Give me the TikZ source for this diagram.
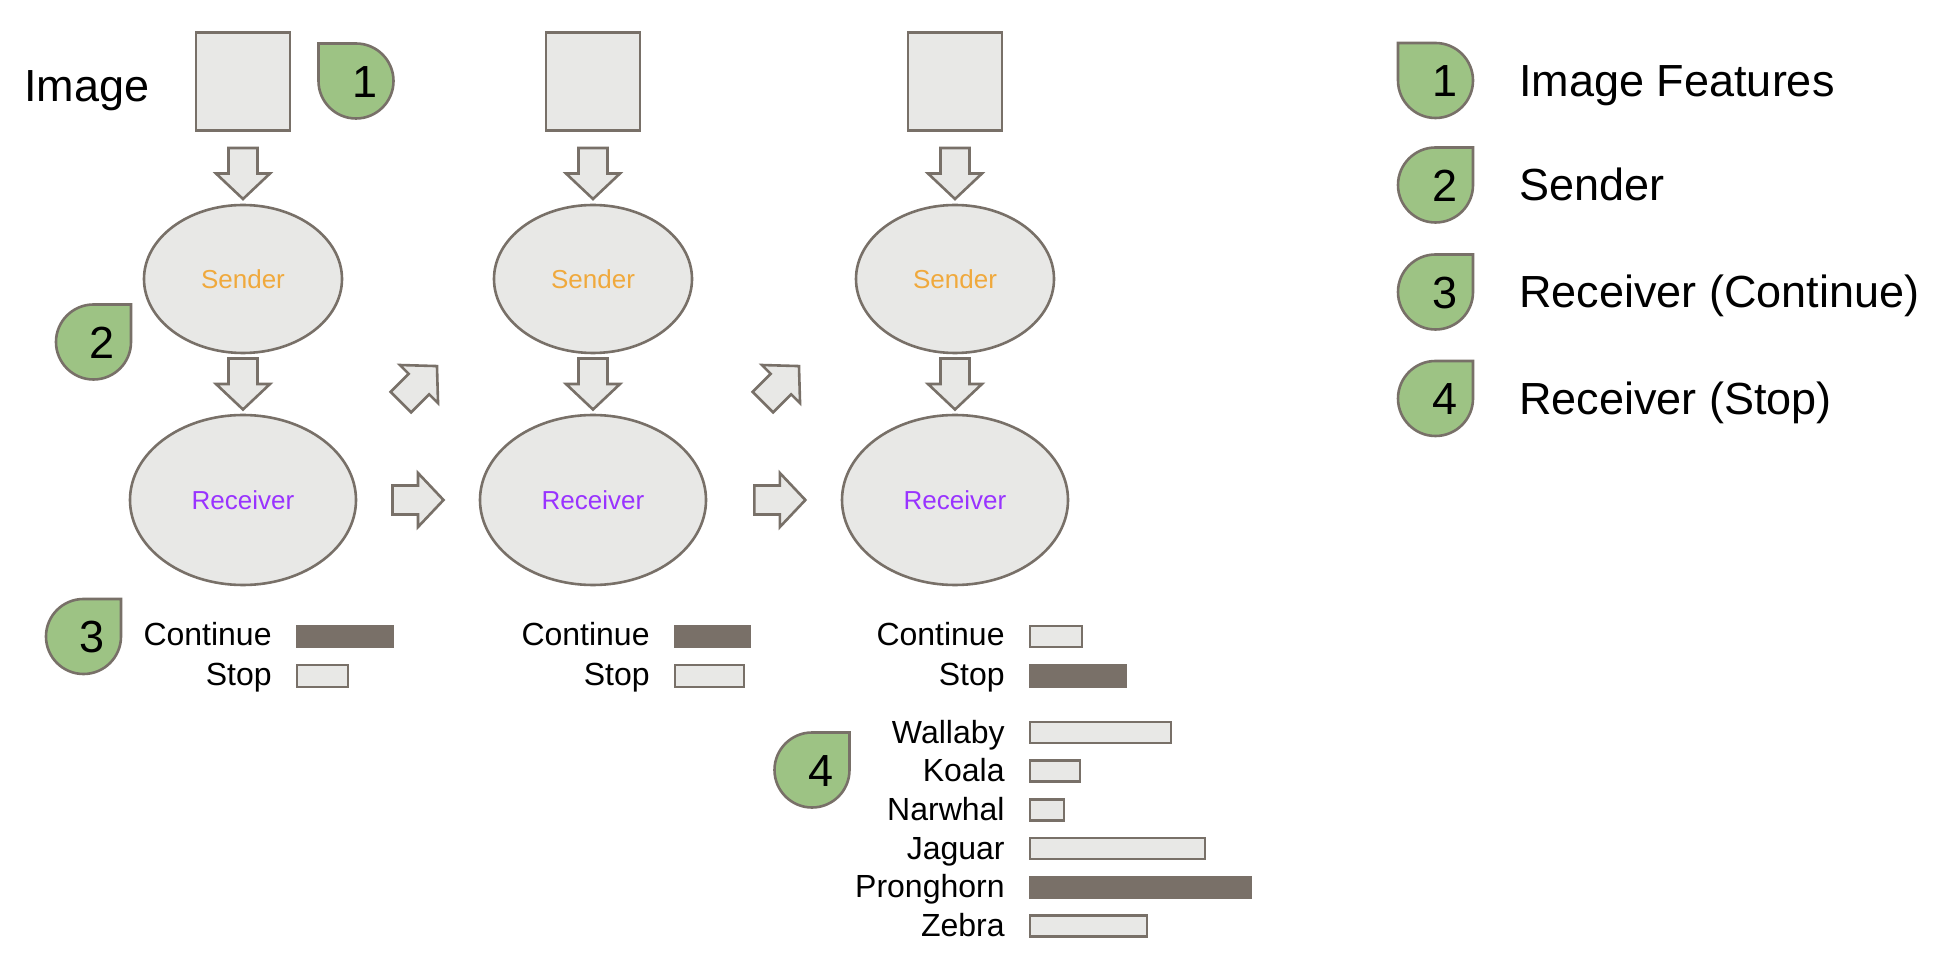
\documentclass[tikz,border=0pt]{standalone}
\usepackage{fontspec}
\setmainfont{Liberation Sans}
\usetikzlibrary{shapes.geometric,calc}
\definecolor{edgegray}{HTML}{787068}
\definecolor{lightfill}{HTML}{E8E8E6}
\definecolor{barfill}{HTML}{797068}
\definecolor{badgegreen}{HTML}{9DC384}
\definecolor{sendorange}{HTML}{F0A93C}
\definecolor{recvpurple}{HTML}{9933FF}
\tikzset{
  grayshape/.style={draw=edgegray, line width=1.3pt, fill=lightfill},
  imgbox/.style={grayshape, rectangle, minimum width=47pt, minimum height=49pt, inner sep=0pt},
  sendnode/.style={grayshape, ellipse, minimum width=99pt, minimum height=74pt, inner sep=0pt, text=sendorange, font=\fontsize{13}{15}\selectfont},
  recvnode/.style={grayshape, ellipse, minimum width=113pt, minimum height=85pt, inner sep=0pt, text=recvpurple, font=\fontsize{13}{15}\selectfont},
  blockarrow/.style={grayshape, line join=miter},
  badgeshape/.style={draw=edgegray, line width=1.3pt, fill=badgegreen, line join=miter},
  badgenum/.style={inner sep=0pt, font=\fontsize{22.5}{27}\selectfont},
  bigtext/.style={inner sep=0pt, font=\fontsize{22.5}{27}\selectfont},
  lbl/.style={inner sep=0pt, font=\fontsize{16}{19}\selectfont},
  lightbarstyle/.style={grayshape},
  darkbarstyle/.style={draw=barfill, line width=1.3pt, fill=barfill},
}
\newcommand\blockarr[2]{%
  \draw[blockarrow, shift={(#1)}, rotate=#2] (-12.75pt,-7.25pt) -- (0pt,-7.25pt) -- (0pt,-13.5pt) -- (12.75pt,0pt) -- (0pt,13.5pt) -- (0pt,7.25pt) -- (-12.75pt,7.25pt) -- cycle;}
\newcommand\tearTL[4]{%
  \draw[badgeshape] (#2-37.5,#3-37.5) -- (#2,#3-37.5)
    .. controls (#2+20.7,#3-37.5) and (#2+37.5,#3-20.7) .. (#2+37.5,#3)
    .. controls (#2+37.5,#3+20.7) and (#2+20.7,#3+37.5) .. (#2,#3+37.5)
    .. controls (#2-20.7,#3+37.5) and (#2-37.5,#3+20.7) .. (#2-37.5,#3)
    -- cycle;
  \node[badgenum] (#1) at (#2+9,#3+1) {#4};}
\newcommand\tearTR[4]{%
  \draw[badgeshape] (#2+37.5,#3-37.5) -- (#2+37.5,#3)
    .. controls (#2+37.5,#3+20.7) and (#2+20.7,#3+37.5) .. (#2,#3+37.5)
    .. controls (#2-20.7,#3+37.5) and (#2-37.5,#3+20.7) .. (#2-37.5,#3)
    .. controls (#2-37.5,#3-20.7) and (#2-20.7,#3-37.5) .. (#2,#3-37.5)
    -- cycle;
  \node[badgenum] (#1) at (#2+9,#3+1) {#4};}
\begin{document}
\begin{tikzpicture}[x=0.5pt,y=-0.5pt]
\useasboundingbox (0,0) rectangle (1954,956);
\fill[white] (0,0) rectangle (1954,956);

% left label
\node[bigtext, anchor=base west] (imglabel) at (24,102) {Image};

% image boxes
\node[imgbox] (img1) at (243,81.5) {};
\node[imgbox] (img2) at (593,81.5) {};
\node[imgbox] (img3) at (955,81.5) {};

% senders
\node[sendnode] (snd1) at (243,279) {Sender};
\node[sendnode] (snd2) at (593,279) {Sender};
\node[sendnode] (snd3) at (955,279) {Sender};

% receivers
\node[recvnode] (rcv1) at (243,500) {Receiver};
\node[recvnode] (rcv2) at (593,500) {Receiver};
\node[recvnode] (rcv3) at (955,500) {Receiver};

% connector positions
\coordinate (da1) at ($(img1.south)!0.58!(snd1.north)$);
\coordinate (da2) at ($(img2.south)!0.58!(snd2.north)$);
\coordinate (da3) at ($(img3.south)!0.58!(snd3.north)$);
\coordinate (db1) at ($(snd1.south)!0.5!(rcv1.north)$);
\coordinate (db2) at ($(snd2.south)!0.5!(rcv2.north)$);
\coordinate (db3) at ($(snd3.south)!0.5!(rcv3.north)$);
\coordinate (rr1) at ($(rcv1.east)!0.5!(rcv2.west)$);
\coordinate (rr2) at ($(rcv2.east)!0.544!(rcv3.west)$);
\coordinate (dg1) at ($(rcv1.north east)!0.5!(snd2.south west)+(-4,-1.5)$);
\coordinate (dg2) at ($(rcv2.north east)!0.5!(snd3.south west)+(2,-1.5)$);

\blockarr{da1}{-90}
\blockarr{da2}{-90}
\blockarr{da3}{-90}
\blockarr{db1}{-90}
\blockarr{db2}{-90}
\blockarr{db3}{-90}
\blockarr{rr1}{0}
\blockarr{rr2}{0}
\blockarr{dg1}{45}
\blockarr{dg2}{45}

% badges in the diagram
\tearTL{b1}{356}{81}{1}
\tearTR{b2}{93.5}{342}{2}
\tearTR{b3}{83.5}{636.5}{3}
\tearTR{b4}{812}{770}{4}

% column 1 scores
\node[lbl, anchor=base east] (c1cont) at (272,646) {Continue};
\node[lbl, anchor=base east] (c1stop) at (272,685) {Stop};
\draw[darkbarstyle] (297,626) rectangle (393,647);
\draw[lightbarstyle] (297,665) rectangle (348,687);

% column 2 scores
\node[lbl, anchor=base east] (c2cont) at (650,646) {Continue};
\node[lbl, anchor=base east] (c2stop) at (650,685) {Stop};
\draw[darkbarstyle] (675,626) rectangle (750,647);
\draw[lightbarstyle] (675,665) rectangle (744,687);

% column 3 scores
\node[lbl, anchor=base east] (c3cont) at (1005,646) {Continue};
\node[lbl, anchor=base east] (c3stop) at (1005,685) {Stop};
\draw[lightbarstyle] (1030,626) rectangle (1082,647);
\draw[darkbarstyle] (1030,665) rectangle (1126,687);

% animals
\node[lbl, anchor=base east] (a1) at (1005,743) {Wallaby};
\node[lbl, anchor=base east] (a2) at (1005,781.7) {Koala};
\node[lbl, anchor=base east] (a3) at (1005,820.4) {Narwhal};
\node[lbl, anchor=base east] (a4) at (1005,859.1) {Jaguar};
\node[lbl, anchor=base east] (a5) at (1005,897.8) {Pronghorn};
\node[lbl, anchor=base east] (a6) at (1005,936.5) {Zebra};
\draw[lightbarstyle] (1030,722) rectangle (1171,743);
\draw[lightbarstyle] (1030,760.7) rectangle (1080,781.7);
\draw[lightbarstyle] (1030,799.4) rectangle (1064,820.4);
\draw[lightbarstyle] (1030,838.1) rectangle (1205,859.1);
\draw[darkbarstyle] (1030,876.8) rectangle (1251,897.8);
\draw[lightbarstyle] (1030,915.5) rectangle (1147,936.5);

% legend
\tearTL{l1}{1435.5}{80.5}{1}
\tearTR{l2}{1435.5}{185}{2}
\tearTR{l3}{1435.5}{292}{3}
\tearTR{l4}{1435.5}{398.5}{4}
\node[bigtext, anchor=base west] (lt1) at (1519,96.5) {Image Features};
\node[bigtext, anchor=base west] (lt2) at (1519,201) {Sender};
\node[bigtext, anchor=base west] (lt3) at (1519,308) {Receiver (Continue)};
\node[bigtext, anchor=base west] (lt4) at (1519,414.5) {Receiver (Stop)};
\end{tikzpicture}
\end{document}
